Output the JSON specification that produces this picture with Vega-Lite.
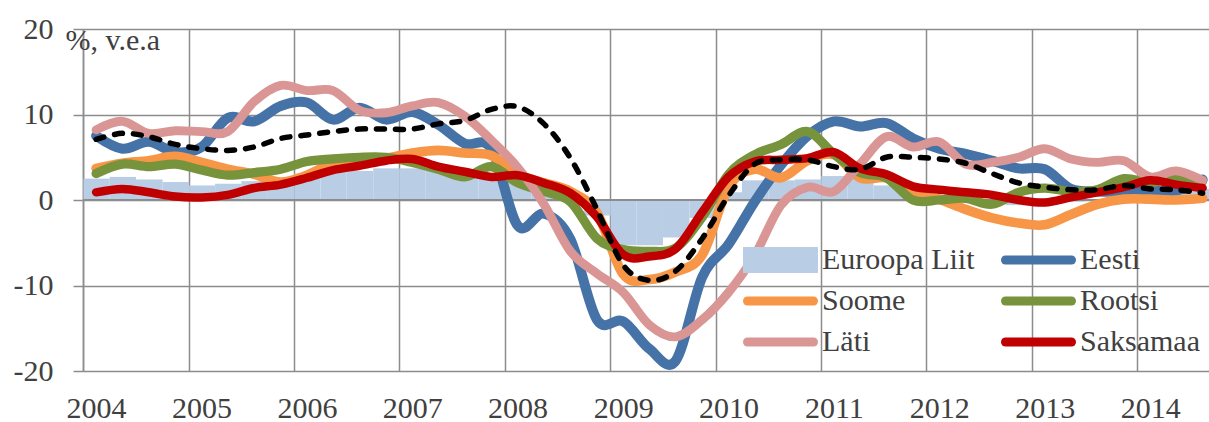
{
  "$schema": "https://vega.github.io/schema/vega-lite/v6.json",
  "width": 1126,
  "height": 342,
  "autosize": {"type": "none"},
  "padding": {"left": 83, "top": 29, "right": 0, "bottom": 51},
  "background": "white",
  "config": {
    "view": {"stroke": null},
    "font": "Liberation Serif"
  },
  "data": {
    "values": [
      {"d": "2004-01-01", "EL": 2.5, "Eesti": 7.5, "Soome": 3.7, "Rootsi": 3.1, "Läti": 8.2, "Saksamaa": 0.9, "Trend": 7.1},
      {"d": "2004-04-01", "EL": 2.7, "Eesti": 6.0, "Soome": 4.3, "Rootsi": 4.2, "Läti": 9.2, "Saksamaa": 1.3, "Trend": 7.8},
      {"d": "2004-07-01", "EL": 2.4, "Eesti": 6.8, "Soome": 4.6, "Rootsi": 3.9, "Läti": 7.8, "Saksamaa": 0.9, "Trend": 7.4},
      {"d": "2004-10-01", "EL": 2.1, "Eesti": 5.6, "Soome": 5.1, "Rootsi": 4.2, "Läti": 8.1, "Saksamaa": 0.4, "Trend": 6.5},
      {"d": "2005-01-01", "EL": 1.7, "Eesti": 6.2, "Soome": 4.4, "Rootsi": 3.5, "Läti": 8.0, "Saksamaa": 0.3, "Trend": 6.0},
      {"d": "2005-04-01", "EL": 1.9, "Eesti": 9.6, "Soome": 3.6, "Rootsi": 2.9, "Läti": 8.0, "Saksamaa": 0.6, "Trend": 5.8},
      {"d": "2005-07-01", "EL": 2.2, "Eesti": 9.2, "Soome": 3.0, "Rootsi": 3.2, "Läti": 11.5, "Saksamaa": 1.4, "Trend": 6.2},
      {"d": "2005-10-01", "EL": 2.5, "Eesti": 11.0, "Soome": 2.1, "Rootsi": 3.6, "Läti": 13.4, "Saksamaa": 1.8, "Trend": 7.2},
      {"d": "2006-01-01", "EL": 3.1, "Eesti": 11.4, "Soome": 2.9, "Rootsi": 4.5, "Läti": 12.8, "Saksamaa": 2.6, "Trend": 7.6},
      {"d": "2006-04-01", "EL": 3.3, "Eesti": 9.4, "Soome": 4.3, "Rootsi": 4.8, "Läti": 12.8, "Saksamaa": 3.5, "Trend": 8.0},
      {"d": "2006-07-01", "EL": 3.4, "Eesti": 10.8, "Soome": 4.7, "Rootsi": 5.0, "Läti": 10.5, "Saksamaa": 4.0, "Trend": 8.3},
      {"d": "2006-10-01", "EL": 3.7, "Eesti": 9.4, "Soome": 4.9, "Rootsi": 5.0, "Läti": 10.2, "Saksamaa": 4.6, "Trend": 8.3},
      {"d": "2007-01-01", "EL": 3.7, "Eesti": 10.3, "Soome": 5.5, "Rootsi": 4.4, "Läti": 11.0, "Saksamaa": 4.8, "Trend": 8.3},
      {"d": "2007-04-01", "EL": 3.6, "Eesti": 8.8, "Soome": 5.8, "Rootsi": 3.6, "Läti": 11.4, "Saksamaa": 3.9, "Trend": 8.9},
      {"d": "2007-07-01", "EL": 3.4, "Eesti": 6.6, "Soome": 5.5, "Rootsi": 2.7, "Läti": 9.8, "Saksamaa": 3.3, "Trend": 9.3},
      {"d": "2007-10-01", "EL": 3.0, "Eesti": 6.0, "Soome": 5.2, "Rootsi": 3.9, "Läti": 7.0, "Saksamaa": 2.7, "Trend": 10.6},
      {"d": "2008-01-01", "EL": 2.4, "Eesti": -3.0, "Soome": 3.0, "Rootsi": 2.0, "Läti": 3.8, "Saksamaa": 2.9, "Trend": 10.9},
      {"d": "2008-04-01", "EL": 1.8, "Eesti": -1.6, "Soome": 2.0, "Rootsi": 1.0, "Läti": -0.5, "Saksamaa": 2.0, "Trend": 8.9},
      {"d": "2008-07-01", "EL": 0.7, "Eesti": -4.6, "Soome": 1.0, "Rootsi": -0.2, "Läti": -6.0, "Saksamaa": 0.8, "Trend": 4.9},
      {"d": "2008-10-01", "EL": -1.8, "Eesti": -14.0, "Soome": -1.5, "Rootsi": -4.5, "Läti": -8.6, "Saksamaa": -2.0, "Trend": -1.1},
      {"d": "2009-01-01", "EL": -5.3, "Eesti": -14.2, "Soome": -8.7, "Rootsi": -5.8, "Läti": -10.8, "Saksamaa": -6.4, "Trend": -7.6},
      {"d": "2009-04-01", "EL": -5.3, "Eesti": -17.4, "Soome": -9.3, "Rootsi": -6.0, "Läti": -14.6, "Saksamaa": -6.6, "Trend": -9.4},
      {"d": "2009-07-01", "EL": -4.4, "Eesti": -18.8, "Soome": -8.4, "Rootsi": -5.6, "Läti": -16.0, "Saksamaa": -5.7, "Trend": -8.3},
      {"d": "2009-10-01", "EL": -2.1, "Eesti": -9.0, "Soome": -6.4, "Rootsi": -2.0, "Läti": -14.0, "Saksamaa": -1.4, "Trend": -4.5},
      {"d": "2010-01-01", "EL": 0.9, "Eesti": -5.2, "Soome": 1.5, "Rootsi": 3.0, "Läti": -10.8, "Saksamaa": 2.7, "Trend": 0.5},
      {"d": "2010-04-01", "EL": 2.3, "Eesti": -0.2, "Soome": 3.6, "Rootsi": 5.3, "Läti": -6.5, "Saksamaa": 4.5, "Trend": 4.2},
      {"d": "2010-07-01", "EL": 2.3, "Eesti": 4.1, "Soome": 2.6, "Rootsi": 6.5, "Läti": -0.6, "Saksamaa": 4.7, "Trend": 4.7},
      {"d": "2010-10-01", "EL": 2.4, "Eesti": 7.5, "Soome": 4.6, "Rootsi": 8.0, "Läti": 1.5, "Saksamaa": 4.9, "Trend": 4.7},
      {"d": "2011-01-01", "EL": 2.8, "Eesti": 9.2, "Soome": 5.3, "Rootsi": 5.4, "Läti": 1.0, "Saksamaa": 5.6, "Trend": 3.9},
      {"d": "2011-04-01", "EL": 2.7, "Eesti": 8.6, "Soome": 2.6, "Rootsi": 3.2, "Läti": 4.2, "Saksamaa": 3.7, "Trend": 3.6},
      {"d": "2011-07-01", "EL": 1.7, "Eesti": 9.0, "Soome": 2.6, "Rootsi": 2.6, "Läti": 7.4, "Saksamaa": 3.0, "Trend": 5.0},
      {"d": "2011-10-01", "EL": 0.8, "Eesti": 7.2, "Soome": 1.1, "Rootsi": 0.0, "Läti": 6.2, "Saksamaa": 1.6, "Trend": 5.0},
      {"d": "2012-01-01", "EL": -0.1, "Eesti": 6.0, "Soome": 0.1, "Rootsi": 0.0, "Läti": 6.8, "Saksamaa": 1.2, "Trend": 4.8},
      {"d": "2012-04-01", "EL": -0.3, "Eesti": 5.4, "Soome": -1.1, "Rootsi": 0.2, "Läti": 4.2, "Saksamaa": 0.9, "Trend": 4.3},
      {"d": "2012-07-01", "EL": -0.4, "Eesti": 4.6, "Soome": -2.1, "Rootsi": -0.5, "Läti": 4.4, "Saksamaa": 0.6, "Trend": 3.1},
      {"d": "2012-10-01", "EL": -0.6, "Eesti": 3.7, "Soome": -2.7, "Rootsi": 0.9, "Läti": 5.0, "Saksamaa": 0.0, "Trend": 2.0},
      {"d": "2013-01-01", "EL": -0.6, "Eesti": 3.6, "Soome": -2.9, "Rootsi": 1.4, "Läti": 6.0, "Saksamaa": -0.3, "Trend": 1.5},
      {"d": "2013-04-01", "EL": -0.2, "Eesti": 1.3, "Soome": -1.7, "Rootsi": 1.0, "Läti": 4.8, "Saksamaa": 0.3, "Trend": 1.2},
      {"d": "2013-07-01", "EL": 0.1, "Eesti": 1.0, "Soome": -0.5, "Rootsi": 1.2, "Läti": 4.4, "Saksamaa": 0.9, "Trend": 1.2},
      {"d": "2013-10-01", "EL": 1.1, "Eesti": 1.0, "Soome": 0.1, "Rootsi": 2.5, "Läti": 4.6, "Saksamaa": 1.5, "Trend": 1.7},
      {"d": "2014-01-01", "EL": 1.4, "Eesti": 1.1, "Soome": 0.1, "Rootsi": 2.0, "Läti": 2.7, "Saksamaa": 2.3, "Trend": 1.3},
      {"d": "2014-04-01", "EL": 1.3, "Eesti": 1.1, "Soome": 0.0, "Rootsi": 2.7, "Läti": 3.4, "Saksamaa": 1.8, "Trend": 1.2},
      {"d": "2014-07-01", "EL": 1.3, "Eesti": 2.4, "Soome": 0.2, "Rootsi": 2.2, "Läti": 2.3, "Saksamaa": 1.4, "Trend": 0.8}
    ]
  },
  "layer": [
    {
      "mark": {"type": "bar", "binSpacing": 0, "timeUnitBandSize": 1, "timeUnitBandPosition": 0, "clip": true},
      "encoding": {
        "x": {
          "field": "d", "timeUnit": "utcyearquarter", "type": "temporal",
          "scale": {"type": "utc", "domain": [{"year": 2004, "month": 1, "date": 1, "utc": true}, {"year": 2014, "month": 9, "date": 7, "utc": true}]},
          "axis": {
            "values": [
              {"year": 2004, "month": 1, "date": 1, "utc": true}, {"year": 2005, "month": 1, "date": 1, "utc": true},
              {"year": 2006, "month": 1, "date": 1, "utc": true}, {"year": 2007, "month": 1, "date": 1, "utc": true},
              {"year": 2008, "month": 1, "date": 1, "utc": true}, {"year": 2009, "month": 1, "date": 1, "utc": true},
              {"year": 2010, "month": 1, "date": 1, "utc": true}, {"year": 2011, "month": 1, "date": 1, "utc": true},
              {"year": 2012, "month": 1, "date": 1, "utc": true}, {"year": 2013, "month": 1, "date": 1, "utc": true},
              {"year": 2014, "month": 1, "date": 1, "utc": true}
            ],
            "title": null, "grid": true, "gridColor": "#8C8C8C", "gridWidth": 1.5,
            "ticks": false, "domain": false,
            "labelExpr": "utcFormat(datum.value, '%Y')",
            "labelFlush": false, "labelOverlap": false, "labelBound": false,
            "labelOffset": 13, "labelPadding": 22,
            "labelFont": "Liberation Serif", "labelFontSize": 30, "labelColor": "#404040"
          }
        },
        "y": {
          "field": "EL", "type": "quantitative",
          "scale": {"domain": [-20, 20], "nice": false},
          "axis": {
            "values": [-20, -10, 0, 10, 20],
            "grid": true, "gridColor": "#8C8C8C", "gridWidth": 1.5,
            "ticks": true, "tickColor": "#8C8C8C", "tickSize": 10, "tickWidth": 1.5,
            "domain": true, "domainColor": "#8C8C8C", "domainWidth": 1.5,
            "labelExpr": "datum.value + ''",
            "labelPadding": 20, "labelFont": "Liberation Serif", "labelFontSize": 30, "labelColor": "#404040",
            "title": "%, v.e.a", "titleAngle": 0, "titleAlign": "left", "titleBaseline": "alphabetic",
            "titleX": -18, "titleY": 20, "titleFont": "Liberation Serif", "titleFontSize": 30,
            "titleFontWeight": "normal", "titleColor": "#404040"
          }
        },
        "color": {"datum": "Euroopa Liit", "type": "nominal"}
      }
    },
    {
      "mark": {"type": "rule", "color": "#8C8C8C", "strokeWidth": 1.5},
      "encoding": {"y": {"datum": 0, "type": "quantitative"}}
    },
    {
      "transform": [{"fold": ["Eesti", "Soome", "Rootsi", "Läti", "Saksamaa"], "as": ["s", "v"]}],
      "mark": {"type": "line", "interpolate": "cardinal", "strokeCap": "round", "strokeJoin": "round"},
      "encoding": {
        "x": {"field": "d", "timeUnit": "utcyearquarter", "type": "temporal", "bandPosition": 0.5},
        "y": {"field": "v", "type": "quantitative"},
        "color": {
          "field": "s", "type": "nominal",
          "scale": {
            "domain": ["Euroopa Liit", "Soome", "Läti", "Eesti", "Rootsi", "Saksamaa"],
            "range": ["#B9CDE5", "#F79646", "#D99694", "#4572A7", "#77933C", "#C00000"]
          },
          "legend": {
            "title": null, "orient": "none", "legendX": 660, "legendY": 214,
            "columns": 2, "padding": 0, "clipHeight": 34,
            "symbolType": "stroke", "symbolSize": 4356, "symbolStrokeWidth": 9,
            "labelFont": "Liberation Serif", "labelFontSize": 30, "labelColor": "#404040",
            "labelOffset": 4, "labelLimit": 400, "columnPadding": 26, "rowPadding": 7,
            "encode": {
              "symbols": {
                "update": {
                  "shape": {"signal": "datum.value === 'Euroopa Liit' ? 'M-1,-0.26H1V0.26H-1Z' : 'stroke'"},
                  "fill": {"signal": "datum.value === 'Euroopa Liit' ? '#B9CDE5' : 'transparent'"},
                  "stroke": {"signal": "datum.value === 'Euroopa Liit' ? 'transparent' : scale('color', datum.value)"},
                  "strokeWidth": {"value": 9},
                  "strokeCap": {"value": "round"},
                  "opacity": {"value": 1}
                }
              }
            }
          }
        },
        "strokeWidth": {
          "field": "s", "type": "nominal",
          "scale": {"domain": ["Eesti", "Soome", "Rootsi", "Läti", "Saksamaa"], "range": [10, 8.5, 8.5, 8.5, 9]},
          "legend": null
        }
      }
    },
    {
      "mark": {"type": "line", "interpolate": "cardinal", "color": "black", "strokeWidth": 5.5, "strokeDash": [8, 11], "strokeCap": "round"},
      "encoding": {
        "x": {"field": "d", "timeUnit": "utcyearquarter", "type": "temporal", "bandPosition": 0.5},
        "y": {"field": "Trend", "type": "quantitative"}
      }
    }
  ]
}
